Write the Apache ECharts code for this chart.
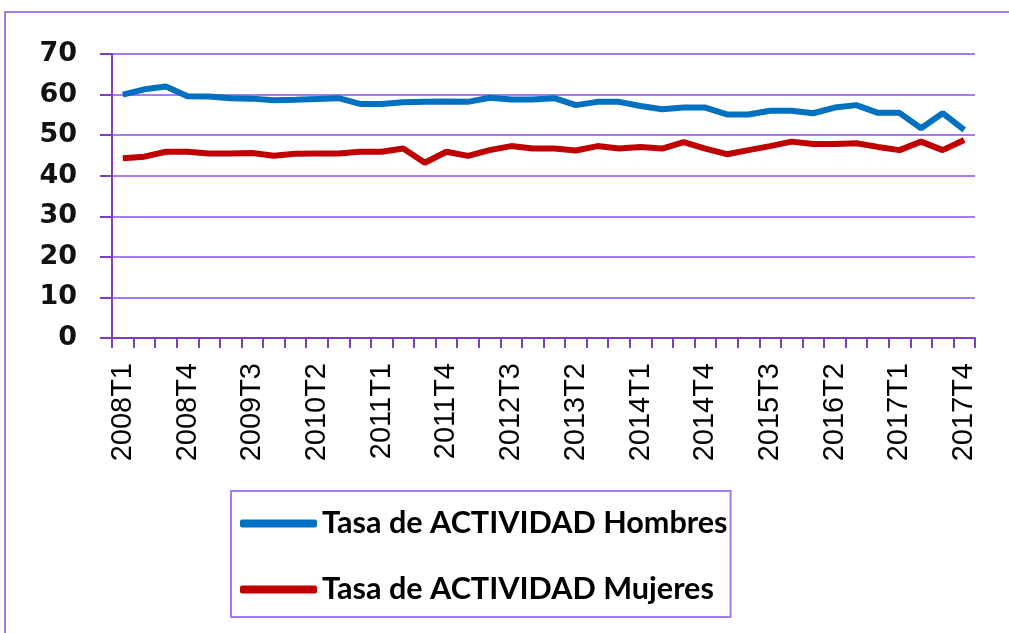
<!DOCTYPE html>
<html>
<head>
<meta charset="utf-8">
<script src="https://cdn.jsdelivr.net/npm/echarts@6/dist/echarts.min.js"></script>
<style>html,body{margin:0;padding:0;background:#fff;overflow:hidden;}#c{width:1009px;height:633px;}</style>
</head>
<body>
<div id="c"></div>
<script>
const years = [2008,2009,2010,2011,2012,2013,2014,2015,2016,2017];
const quarters = ['T1','T2','T3','T4'];
const categories = [];
years.forEach(y => quarters.forEach(q => categories.push(y + q)));

const hombres = [60.0,61.3,62.0,59.6,59.5,59.1,59.0,58.6,58.7,58.9,
                 59.1,57.7,57.7,58.1,58.2,58.3,58.2,59.2,58.8,58.8,
                 59.1,57.4,58.2,58.2,57.2,56.4,56.8,56.8,55.1,55.1,
                 56.0,56.0,55.4,56.8,57.4,55.5,55.5,51.7,55.4,51.3];
const mujeres = [44.3,44.7,45.9,45.9,45.5,45.5,45.6,44.9,45.4,45.5,
                 45.5,45.9,45.9,46.7,43.2,45.9,44.9,46.3,47.3,46.7,
                 46.7,46.2,47.3,46.7,47.1,46.7,48.3,46.7,45.3,46.3,
                 47.3,48.4,47.8,47.8,48.0,47.1,46.3,48.4,46.3,48.8];
const seriesNames = ['Tasa de ACTIVIDAD Hombres','Tasa de ACTIVIDAD Mujeres'];

const axisColor = '#7B3FC4';
const gridColor = '#A77BF3';

const chart = echarts.init(document.getElementById('c'));
chart.setOption({
  animation: false,
  backgroundColor: '#fff',
  graphic: [{
    type: 'polyline', silent: true,
    shape: { points: [[5, 640], [5, 12], [1020, 12]] },
    style: { fill: 'none', stroke: '#A57BF0', lineWidth: 2 }
  }],
  grid: { left: 112, right: 34, top: 54, bottom: 295, containLabel: false },
  legend: {
    orient: 'vertical', left: 231, top: 491,
    padding: [17, 3, 12, 9],
    borderColor: '#A57BF0', borderWidth: 2,
    itemWidth: 77, itemHeight: 8, itemGap: 35,
    icon: 'roundRect',
    textStyle: { fontFamily: 'Lato', fontWeight: 'bold', fontSize: 30.6, color: '#000', lineHeight: 30 },
    data: seriesNames
  },
  xAxis: {
    type: 'category', data: categories, boundaryGap: true,
    axisLine: { lineStyle: { color: axisColor, width: 2 } },
    axisTick: { show: true, interval: 0, length: 10, lineStyle: { color: axisColor, width: 2 } },
    axisLabel: { interval: 2, rotate: 90, margin: 25, fontFamily: 'Liberation Sans', fontSize: 29, color: '#000' },
    splitLine: { show: false }
  },
  yAxis: {
    type: 'value', min: 0, max: 70, interval: 10,
    axisLine: { show: true, lineStyle: { color: axisColor, width: 2 } },
    axisTick: { show: true, inside: false, length: 12, lineStyle: { color: axisColor, width: 2 } },
    axisLabel: { margin: 35, fontFamily: 'DejaVu Sans', fontWeight: 'bold', fontSize: 27, color: '#111' },
    splitLine: { show: true, lineStyle: { color: gridColor, width: 2 } }
  },
  series: [
    { name: seriesNames[0], type: 'line', data: hombres, symbol: 'none',
      lineStyle: { color: '#0070C0', width: 6 }, itemStyle: { color: '#0070C0' } },
    { name: seriesNames[1], type: 'line', data: mujeres, symbol: 'none',
      lineStyle: { color: '#C00000', width: 6 }, itemStyle: { color: '#C00000' } }
  ]
});
</script>
</body>
</html>
